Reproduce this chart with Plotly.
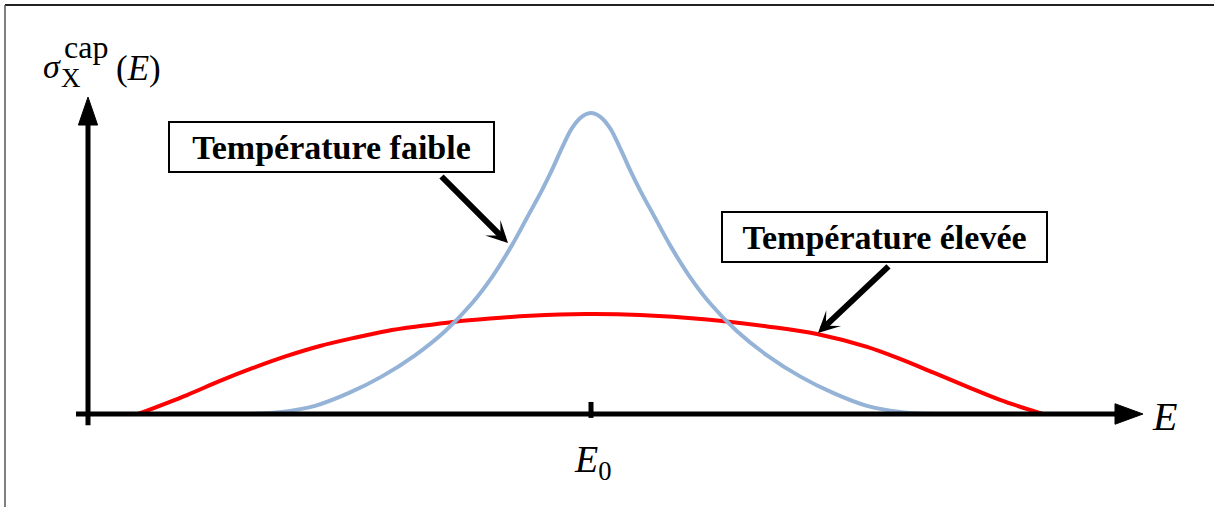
import plotly.graph_objects as go

# Capture cross-section around a resonance, two temperatures (arbitrary units, E relative to E0)
E_cold = [-3.45, -3.09, -2.76, -2.42, -2.09, -1.76, -1.46, -1.19, -0.99, -0.79, -0.64, -0.49, -0.39, -0.29,
          -0.19, -0.09, 0.00, 0.09, 0.19, 0.29, 0.39, 0.49, 0.64, 0.79, 0.99, 1.19, 1.46, 1.76, 2.09,
          2.42, 2.76, 3.09, 3.45]
sigma_cold = [0.000, 0.007, 0.027, 0.070, 0.125, 0.195, 0.275, 0.368, 0.455, 0.561, 0.652, 0.744, 0.811, 0.884,
              0.950, 0.988, 1.000, 0.988, 0.950, 0.884, 0.811, 0.744, 0.652, 0.561, 0.455, 0.368, 0.275, 0.195,
              0.125, 0.070, 0.027, 0.007, 0.000]

E_hot = [-4.53, -4.04, -3.71, -3.38, -3.04, -2.71, -2.38, -2.04, -1.71, -1.38, -1.01, -0.61, -0.06,
         0.49, 1.16, 1.76, 2.26, 2.76, 3.09, 3.42, 3.76, 4.09, 4.52]
sigma_hot = [0.000, 0.063, 0.110, 0.153, 0.193, 0.226, 0.252, 0.276, 0.292, 0.306, 0.317, 0.326, 0.332,
             0.329, 0.314, 0.291, 0.266, 0.223, 0.183, 0.138, 0.091, 0.047, 0.000]

label_cold = "<b>Température faible</b>"
label_hot = "<b>Température élevée</b>"

# Axis geometry (data units)
X_RANGE = [-5.91, 6.23]
Y_RANGE = [-0.309, 1.3754]
X_AXIS_START, X_AXIS_TIP, X_HEAD_LEN, X_HEAD_HALF = -5.15, 5.52, 0.28, 0.034
Y_AXIS_X, Y_AXIS_START, Y_AXIS_TIP, Y_HEAD_LEN, Y_HEAD_HALF = -5.03, -0.037, 1.053, 0.093, 0.096
TICK_LOW, TICK_HIGH = -0.013, 0.040

AXIS_W = 5
SERIF = "Liberation Serif"
W, H = 1214, 507

fig = go.Figure()
fig.add_trace(go.Scatter(x=E_hot, y=sigma_hot, mode="lines",
                         line=dict(color="#FF0000", width=4, shape="spline", smoothing=1.0),
                         hoverinfo="skip", showlegend=False))
fig.add_trace(go.Scatter(x=E_cold, y=sigma_cold, mode="lines",
                         line=dict(color="#95B3D7", width=4, shape="spline", smoothing=1.0),
                         hoverinfo="skip", showlegend=False))

shapes = [
    # horizontal axis + arrowhead
    dict(type="line", xref="x", yref="y", x0=X_AXIS_START, x1=X_AXIS_TIP - X_HEAD_LEN + 0.02, y0=0, y1=0,
         line=dict(color="black", width=AXIS_W)),
    dict(type="path", xref="x", yref="y",
         path=f"M{X_AXIS_TIP - X_HEAD_LEN},{-X_HEAD_HALF} L{X_AXIS_TIP},0 L{X_AXIS_TIP - X_HEAD_LEN},{X_HEAD_HALF} Z",
         fillcolor="black", line=dict(color="black", width=1)),
    # vertical axis + arrowhead
    dict(type="line", xref="x", yref="y", x0=Y_AXIS_X, x1=Y_AXIS_X, y0=Y_AXIS_START, y1=Y_AXIS_TIP - Y_HEAD_LEN + 0.01,
         line=dict(color="black", width=AXIS_W)),
    dict(type="path", xref="x", yref="y",
         path=f"M{Y_AXIS_X - Y_HEAD_HALF},{Y_AXIS_TIP - Y_HEAD_LEN} L{Y_AXIS_X},{Y_AXIS_TIP} L{Y_AXIS_X + Y_HEAD_HALF},{Y_AXIS_TIP - Y_HEAD_LEN} Z",
         fillcolor="black", line=dict(color="black", width=1)),
    # E0 tick
    dict(type="line", xref="x", yref="y", x0=0, x1=0, y0=TICK_LOW, y1=TICK_HIGH, line=dict(color="black", width=AXIS_W)),
    # outer frame (top and left edges)
    dict(type="line", xref="paper", yref="paper", x0=5 / W, x1=1, y0=1 - 5 / H, y1=1 - 5 / H,
         line=dict(color="#222222", width=2)),
    dict(type="line", xref="paper", yref="paper", x0=5 / W, x1=5 / W, y0=0, y1=1 - 5 / H,
         line=dict(color="#555555", width=1.5)),
]


def px_note(x, y, text, size, xanchor="center"):
    """Text placed by pixel position (centre of its line box)."""
    return dict(x=x / W, y=1 - y / H, xref="paper", yref="paper", text=text, showarrow=False,
                xanchor=xanchor, yanchor="middle", font=dict(family=SERIF, size=size, color="black"))


annotations = [
    # callout boxes
    dict(x=-2.595, y=0.887, xref="x", yref="y", text=label_cold, showarrow=False,
         font=dict(family=SERIF, size=34, color="black"), bordercolor="black", borderwidth=2, borderpad=0,
         bgcolor="white", width=323, height=48),
    dict(x=2.935, y=0.588, xref="x", yref="y", text=label_hot, showarrow=False,
         font=dict(family=SERIF, size=34, color="black"), bordercolor="black", borderwidth=2, borderpad=0,
         bgcolor="white", width=323, height=48),
    # callout arrows
    dict(x=-0.83, y=0.568, ax=-1.51, ay=0.794, xref="x", yref="y", axref="x", ayref="y", text="",
         showarrow=True, arrowhead=3, arrowwidth=6, arrowsize=0.6, arrowcolor="black"),
    dict(x=2.27, y=0.269, ax=2.99, ay=0.495, xref="x", yref="y", axref="x", ayref="y", text="",
         showarrow=True, arrowhead=3, arrowwidth=6, arrowsize=0.6, arrowcolor="black"),
    # axis labels
    dict(x=5.73, y=-0.007, xref="x", yref="y", text="<i>E</i>", showarrow=False,
         font=dict(family=SERIF, size=40, color="black")),
    dict(x=0.02, y=-0.16, xref="x", yref="y", text="<i>E</i><sub>0</sub>", showarrow=False,
         font=dict(family=SERIF, size=38, color="black")),
    px_note(52, 66, "<i>σ</i>", 34),
    px_note(71, 78, "X", 27),
    px_note(62, 47, "cap", 32, xanchor="left"),
    px_note(114, 68, "(<i>E</i>)", 35, xanchor="left"),
]

fig.update_layout(
    width=W, height=H, autosize=False,
    margin=dict(l=0, r=0, t=0, b=0),
    paper_bgcolor="white", plot_bgcolor="white",
    xaxis=dict(range=X_RANGE, visible=False, fixedrange=True),
    yaxis=dict(range=Y_RANGE, visible=False, fixedrange=True),
    shapes=shapes, annotations=annotations,
)

fig.write_html("out.html")
